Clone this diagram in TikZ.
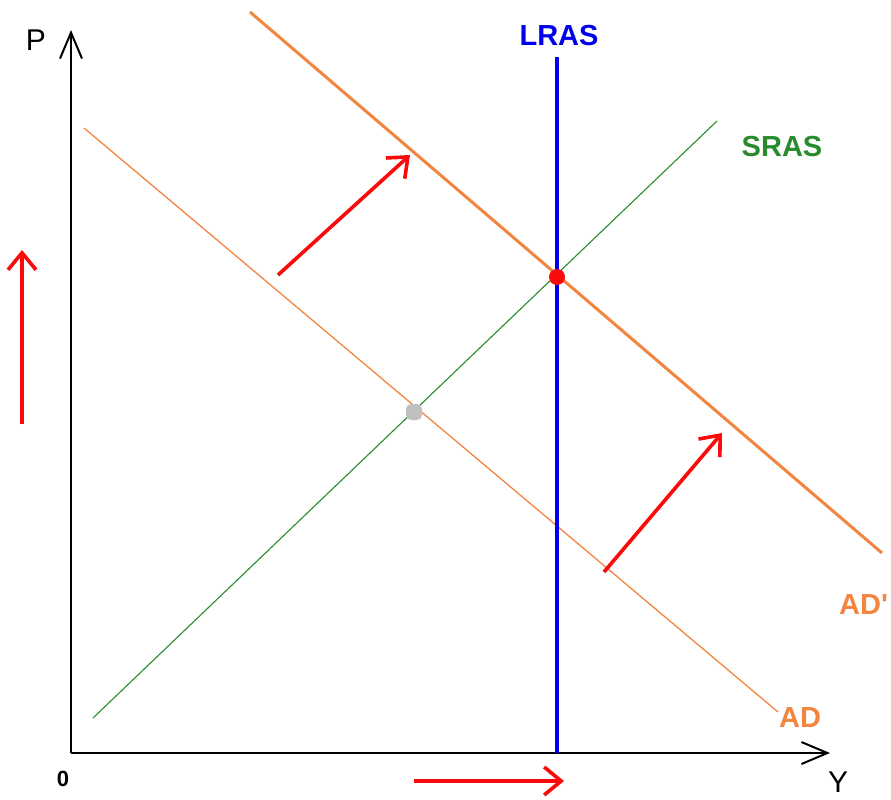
\documentclass[tikz,border=0pt]{standalone}
\usepackage{fontspec}
\setmainfont{Liberation Sans}
\usetikzlibrary{arrows.meta,positioning}
\definecolor{adorange}{RGB}{242,133,64}
\definecolor{srasgreen}{RGB}{40,140,45}
\definecolor{lrasblue}{RGB}{0,0,235}
\definecolor{shiftred}{RGB}{250,10,10}

\begin{document}
\begin{tikzpicture}[
  x=1pt, y=-1pt,
  curvelbl/.style={font=\fontsize{29}{34}\selectfont\bfseries, inner sep=0pt},
  axlbl/.style={font=\fontsize{30}{34}\selectfont, inner sep=0pt},
  axis/.style={draw=black, line width=2pt,
               -{Straight Barb[length=26pt, width=22pt, line width=2pt]}},
  shiftarrow/.style={draw=shiftred, line width=3.6pt,
                -{Straight Barb[length=17pt, width=28pt, line width=3.6pt]}},
  eqdot/.style={circle, inner sep=0pt, minimum size=16pt}
]
\useasboundingbox (0,0) rectangle (891,800);
% axes
\coordinate (O) at (71,753);
\coordinate (ytop) at (71,30);
\coordinate (xend) at (830,753);
\draw[axis] (O) -- (ytop);
\draw[axis] (O) -- (xend);
\node[axlbl] (P) at (36,40) {P};
\node[axlbl, anchor=base] (Y) at (838,792) {Y};
\node[axlbl, font=\fontsize{22}{26}\selectfont\bfseries] (zero) at (63,779) {0};
% curves
\coordinate (lrasT) at (557,57);
\coordinate (lrasB) at (557,753);
\coordinate (adA) at (84,128);
\coordinate (adB) at (778,712);
\coordinate (adpA) at (250,12);
\coordinate (adpB) at (882,553);
\coordinate (srasA) at (93,718);
\coordinate (srasB) at (717,121);
\draw[adorange, line width=1.3pt] (adA) -- (adB);
\draw[srasgreen, line width=1.1pt] (srasA) -- (srasB);
\draw[adorange, line width=3pt] (adpA) -- (adpB);
\draw[lrasblue, line width=4pt] (lrasT) -- (lrasB);
\node[curvelbl, text=lrasblue] (LRAS) at (559,36) {LRAS};
\node[curvelbl, text=srasgreen] (SRAS) at (782,147) {SRAS};
\node[curvelbl, text=adorange, anchor=west] (ADp) at (839,605) {AD\textquotesingle};
\node[curvelbl, text=adorange] (AD) at (800,718) {AD};
% equilibria
\node[eqdot, fill=shiftred] (E1) at (557,277) {};
\node[eqdot, fill=black!25, rectangle, rounded corners=5pt] (E0) at (414,412) {};
% shifts
\coordinate (s1a) at (278,275);
\coordinate (s1b) at (410,155);
\coordinate (s2a) at (604,572);
\coordinate (s2b) at (722,433);
\coordinate (pa) at (22,424);
\coordinate (pb) at (22,250);
\coordinate (ya) at (414,781);
\coordinate (yb) at (564,781);
\draw[shiftarrow] (s1a) -- (s1b);
\draw[shiftarrow] (s2a) -- (s2b);
\draw[shiftarrow] (pa) -- (pb);
\draw[shiftarrow] (ya) -- (yb);
\end{tikzpicture}
\end{document}
